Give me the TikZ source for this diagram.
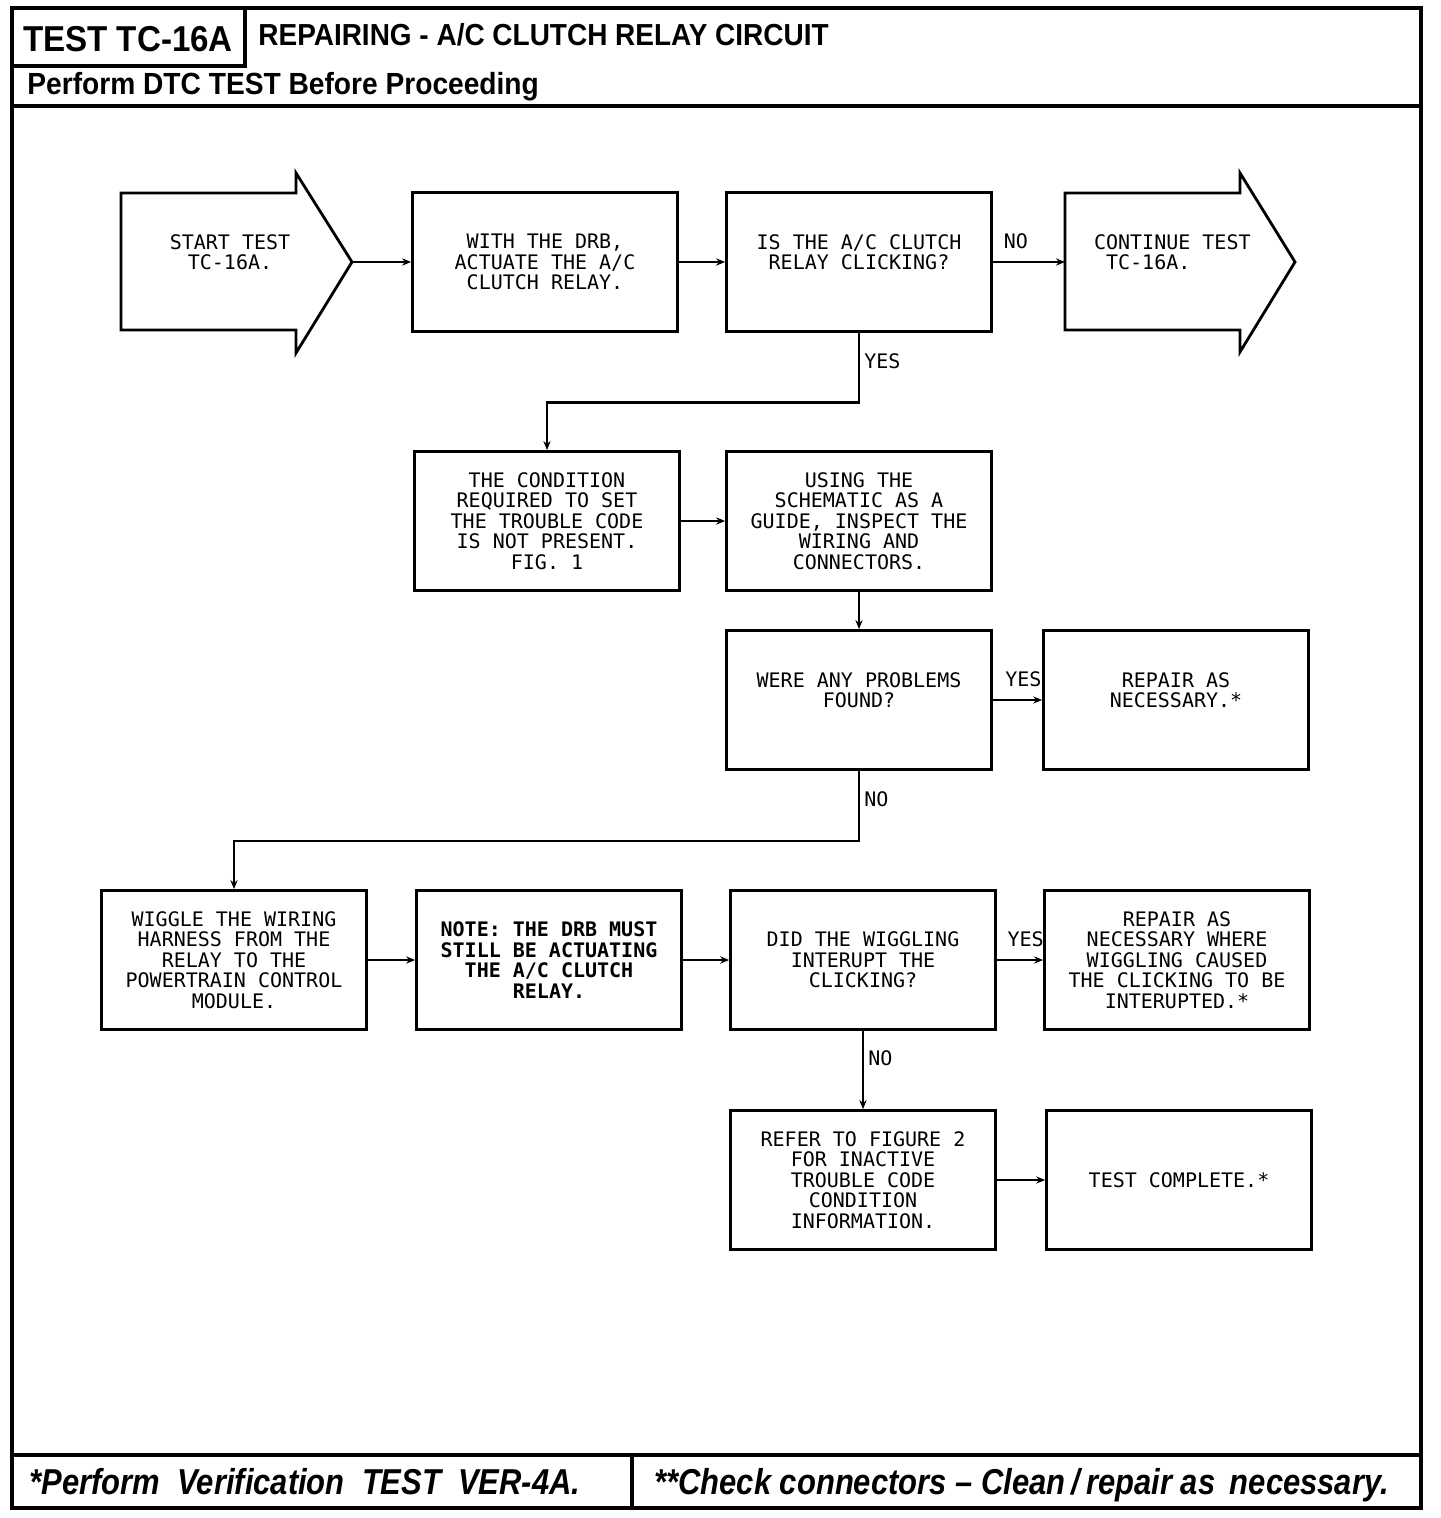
\documentclass[tikz,border=0pt]{standalone}
\usepackage{fontspec}
\setmainfont{Liberation Sans}
\newfontfamily\PlotFont{DejaVu Sans Mono}
\newfontfamily\HeadFont[FakeStretch=0.92]{Liberation Sans}
\newfontfamily\FootFont[FakeStretch=0.86]{Liberation Sans}
\usetikzlibrary{arrows.meta}

\newcommand{\TestCode}{TC-16A}
\newcommand{\PlotText}{\PlotFont\fontsize{10}{10.2}\selectfont}
\definecolor{Ink}{HTML}{000000}
\definecolor{Sheet}{HTML}{FFFFFF}

\tikzset{
  frame/.style={draw=Ink, line width=1.7pt},
  stepbox/.style={
    draw=Ink,
    line width=1.4pt,
    minimum width=132.5pt,
    minimum height=69.5pt,
    inner sep=0pt,
    align=center,
    font=\PlotText
  },
  pointer/.style={draw=Ink, line width=1.4pt, line join=miter},
  flow/.style={draw=Ink, line width=1.4pt, -{Stealth[length=4.5pt,width=3.6pt]}},
  answer/.style={font=\PlotText, inner sep=2pt, text=Ink}
}

\begin{document}
\begin{tikzpicture}[x=0.5pt,y=-0.5pt]

  \useasboundingbox (0,0) rectangle (1440,1518);
  \fill[Sheet] (0,0) rectangle (1440,1518);

  \draw[frame] (12,8) rectangle (1421,1508);
  \draw[frame] (245,8) -- (245,66) -- (12,66);
  \draw[frame] (12,106) -- (1421,106);
  \draw[frame] (12,1455) -- (1421,1455);
  \draw[frame] (632,1455) -- (632,1508);

  \node[
    anchor=base,
    font=\HeadFont\bfseries\fontsize{18}{20}\selectfont,
    inner sep=0pt
  ] (code) at (128,52) {TEST \TestCode};

  \node[
    anchor=base west,
    font=\HeadFont\bfseries\fontsize{15.2}{17}\selectfont,
    inner sep=0pt
  ] (title) at (258,46) {REPAIRING - A/C CLUTCH RELAY CIRCUIT};

  \node[
    anchor=base west,
    font=\HeadFont\bfseries\fontsize{15.3}{17}\selectfont,
    inner sep=0pt
  ] (pretest) at (27,95) {Perform DTC TEST Before Proceeding};

  \node[
    anchor=base west,
    font=\FootFont\bfseries\itshape\fontsize{18}{20}\selectfont,
    inner sep=0pt
  ] (verify) at (29,1494) {*Perform\ \ Verification\ \ TEST\ \ VER-4A.};

  \node[
    anchor=base west,
    font=\FootFont\bfseries\itshape\fontsize{18}{20}\selectfont,
    inner sep=0pt
  ] (clean) at (654,1494) {**Check connectors – Clean\,/\,repair as\ \,necessary.};

  % entry and exit arrows
  \draw[pointer]
    (121,193) -- (296,193) -- (296,173) -- (352,262)
    -- (296,353) -- (296,330) -- (121,330) -- cycle;
  \coordinate (starttip) at (352,262);
  \node[font=\PlotText, align=center] (start) at (230,252)
    {START TEST\\\TestCode.};

  \draw[pointer]
    (1065,193) -- (1240,193) -- (1240,173) -- (1295,262)
    -- (1240,352) -- (1240,330) -- (1065,330) -- cycle;
  \coordinate (conttail) at (1065,262);
  \node[font=\PlotText, align=left, anchor=west] (continue) at (1087,252)
    {CONTINUE TEST\\\ \TestCode.};

  % steps
  \node[stepbox] (drb) at (545,262)
    {WITH THE DRB,\\ACTUATE THE A/C\\CLUTCH RELAY.};
  \node[stepbox] (clicking) at (859,262)
    {IS THE A/C CLUTCH\\RELAY CLICKING?\\\mbox{}};
  \node[stepbox] (notset) at (547,521)
    {THE CONDITION\\REQUIRED TO SET\\THE TROUBLE CODE\\IS NOT PRESENT.\\FIG. 1};
  \node[stepbox] (inspect) at (859,521)
    {USING THE\\SCHEMATIC AS A\\GUIDE, INSPECT THE\\WIRING AND\\CONNECTORS.};
  \node[stepbox] (problems) at (859,700)
    {WERE ANY PROBLEMS\\FOUND?\\\mbox{}};
  \node[stepbox] (repair) at (1176,700)
    {REPAIR AS\\NECESSARY.*\\\mbox{}};
  \node[stepbox] (wiggle) at (234,960)
    {WIGGLE THE WIRING\\HARNESS FROM THE\\RELAY TO THE\\POWERTRAIN CONTROL\\MODULE.};
  \node[stepbox, font=\PlotText\bfseries] (note) at (549,960)
    {NOTE: THE DRB MUST\\STILL BE ACTUATING\\THE A/C CLUTCH\\RELAY.};
  \node[stepbox] (interrupt) at (863,960)
    {DID THE WIGGLING\\INTERUPT THE\\CLICKING?};
  \node[stepbox] (repairwig) at (1177,960)
    {REPAIR AS\\NECESSARY WHERE\\WIGGLING CAUSED\\THE CLICKING TO BE\\INTERUPTED.*};
  \node[stepbox] (figure) at (863,1180)
    {REFER TO FIGURE 2\\FOR INACTIVE\\TROUBLE CODE\\CONDITION\\INFORMATION.};
  \node[stepbox] (complete) at (1179,1180)
    {TEST COMPLETE.*};

  % connectors
  \draw[flow] (starttip) -- (drb);
  \draw[flow] (drb) -- (clicking);
  \draw[flow] (clicking) -- node[answer, above=4pt, pos=0.32] {NO} (conttail);
  \draw[flow] (clicking.south) -- node[answer, right, pos=0.4] {YES} ++(0,70) -| (notset.north);
  \draw[flow] (notset) -- (inspect);
  \draw[flow] (inspect) -- (problems);
  \draw[flow] (problems) -- node[answer, above=4pt, pos=0.62] {YES} (repair);
  \draw[flow] (problems.south) -- node[answer, right, pos=0.4] {NO} ++(0,70) -| (wiggle.north);
  \draw[flow] (wiggle) -- (note);
  \draw[flow] (note) -- (interrupt);
  \draw[flow] (interrupt) -- node[answer, above=4pt, pos=0.62] {YES} (repairwig);
  \draw[flow] (interrupt) -- node[answer, right, pos=0.35] {NO} (figure);
  \draw[flow] (figure) -- (complete);

\end{tikzpicture}
\end{document}
